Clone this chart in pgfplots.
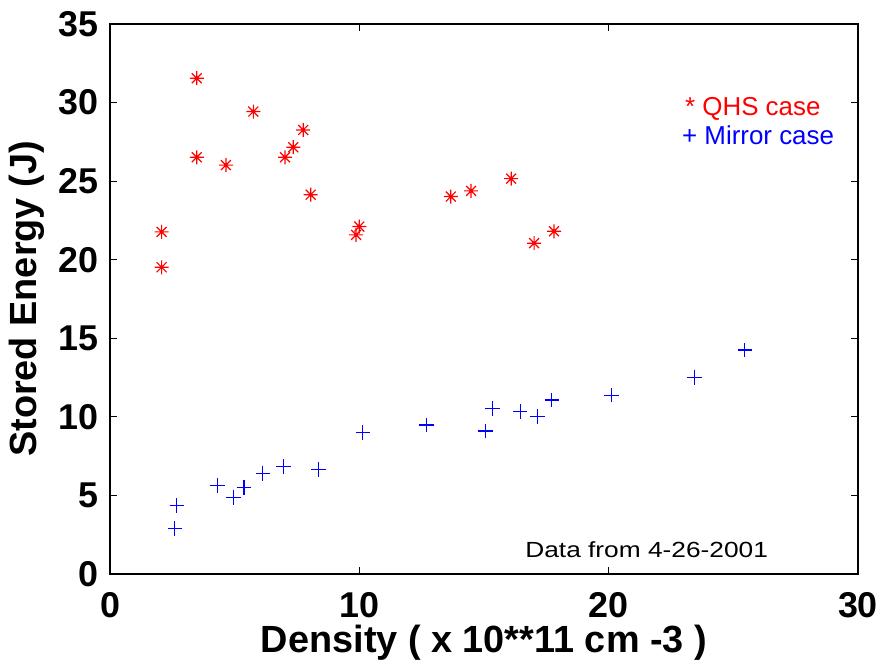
\documentclass[border=0pt]{standalone}
\usepackage{fontspec}
\setmainfont{Liberation Sans}
\usepackage{graphicx}
\usepackage{pgfplots}
\pgfplotsset{compat=1.18}
\definecolor{mred}{RGB}{255,0,0}
\definecolor{mblue}{RGB}{0,0,255}
\pgfdeclareplotmark{mstar}{%
  \pgfpathmoveto{\pgfqpoint{-\pgfplotmarksize}{0pt}}%
  \pgfpathlineto{\pgfqpoint{\pgfplotmarksize}{0pt}}%
  \pgfpathmoveto{\pgfqpoint{0pt}{-\pgfplotmarksize}}%
  \pgfpathlineto{\pgfqpoint{0pt}{\pgfplotmarksize}}%
  \pgfpathmoveto{\pgfqpoint{-0.7071\pgfplotmarksize}{-0.7071\pgfplotmarksize}}%
  \pgfpathlineto{\pgfqpoint{0.7071\pgfplotmarksize}{0.7071\pgfplotmarksize}}%
  \pgfpathmoveto{\pgfqpoint{-0.7071\pgfplotmarksize}{0.7071\pgfplotmarksize}}%
  \pgfpathlineto{\pgfqpoint{0.7071\pgfplotmarksize}{-0.7071\pgfplotmarksize}}%
  \pgfusepathqstroke}
\pgfdeclareplotmark{mplus}{%
  \pgfpathmoveto{\pgfqpoint{-\pgfplotmarksize}{0pt}}%
  \pgfpathlineto{\pgfqpoint{\pgfplotmarksize}{0pt}}%
  \pgfpathmoveto{\pgfqpoint{0pt}{-\pgfplotmarksize}}%
  \pgfpathlineto{\pgfqpoint{0pt}{\pgfplotmarksize}}%
  \pgfusepathqstroke}
\begin{document}
\begin{tikzpicture}
\begin{axis}[
  at={(0,0)}, anchor=south west,
  scale only axis,
  width=748bp, height=550bp,
  xmin=0, xmax=30, ymin=0, ymax=35,
  xtick={0,10,20,30}, ytick={0,5,10,15,20,25,30,35},
  tick align=inside, major tick length=7bp,
  axis line style={line width=1.4bp},
  every tick/.style={black, line width=0.9bp},
  /pgf/number format/assume math mode=true,
  ticklabel style={font=\fontsize{36}{40}\selectfont\bfseries, inner sep=0pt},
  xticklabel style={yshift=-18bp},
  yticklabel style={xshift=-11bp},
  xlabel={Density ( x 10**11 cm -3 )},
  ylabel={Stored Energy (J)},
  label style={font=\fontsize{38}{40}\selectfont\bfseries, inner sep=0pt},
  xlabel style={at={(axis description cs:0.5,-0.1436)}, anchor=base},
  ylabel style={at={(axis description cs:-0.111,0.5)}, anchor=center, rotate=0},
  clip=false,
]
\addplot[only marks, mark=mstar, mark size=7bp, color=mred, mark options={draw=mred, line width=1.2bp}] coordinates {
(3.48,31.55) (5.75,29.43) (7.75,28.26) (7.35,27.16) (7.02,26.52) (3.48,26.52)
(4.65,26.02) (8.05,24.14) (2.07,21.77) (2.07,19.52) (10.0,22.11) (9.87,21.58)
(13.67,24.02) (14.48,24.38) (16.09,25.16) (17.81,21.81) (17.01,21.05)
};
\addplot[only marks, mark=mplus, mark size=7.3bp, color=mblue, mark options={draw=mblue, line width=1.3bp}] coordinates {
(2.68,4.35) (2.60,2.91) (4.30,5.62) (4.95,4.88) (5.37,5.52) (6.13,6.41)
(6.95,6.83) (8.36,6.66) (10.14,9.02) (12.70,9.48) (15.07,9.10) (15.35,10.55)
(16.45,10.34) (17.14,10.01) (17.72,11.08) (20.12,11.38) (23.44,12.50) (25.46,14.26)
};
\node[anchor=base west, inner sep=0pt, text=mred, font=\fontsize{26}{28}\selectfont] at (axis cs:23.06,29.15) {* QHS case};
\node[anchor=base west, inner sep=0pt, text=mblue, font=\fontsize{26}{28}\selectfont] at (axis cs:22.94,27.31) {+ Mirror case};
\node[anchor=base west, inner sep=0pt, font=\fontsize{22}{24}\selectfont] at (axis cs:16.65,1.08) {\scalebox{1.2}[1]{Data from 4-26-2001}};
\end{axis}
\pgfresetboundingbox
\path (-110bp,-94bp) rectangle (774bp,574bp);
\end{tikzpicture}
\end{document}
